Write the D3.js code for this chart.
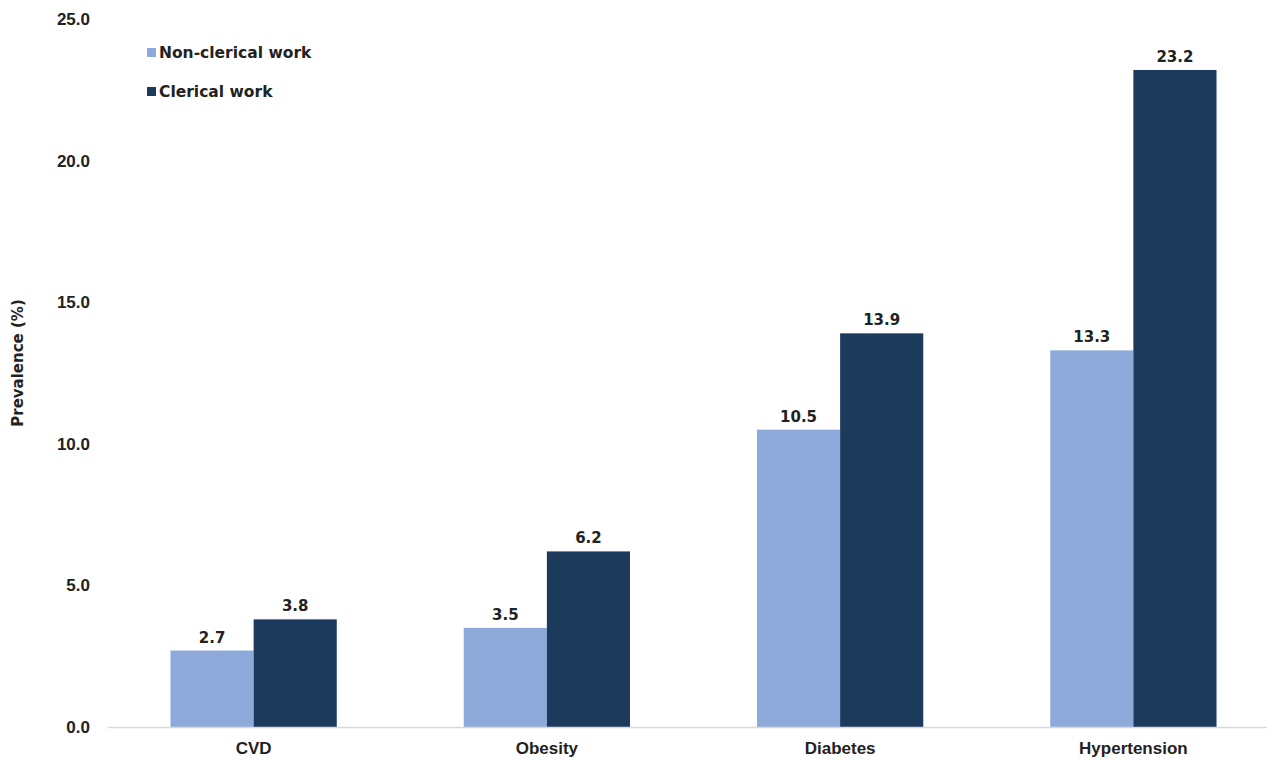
<!DOCTYPE html>
<html>
<head>
<meta charset="utf-8">
<script src="https://cdn.jsdelivr.net/npm/d3@7"></script>
<style>
  body { margin: 0; background: #fff; }
  svg { display: block; font-family: "DejaVu Sans", Verdana, sans-serif; }
</style>
</head>
<body>
<div class="chart"></div>
<script>
// data
const categories = ['CVD', 'Obesity', 'Diabetes', 'Hypertension']
const seriesNames = ['Non-clerical work', 'Clerical work']
const nonClerical = [2.7, 3.5, 10.5, 13.3]
const clerical = [3.8, 6.2, 13.9, 23.2]
const yTicks = [0, 5, 10, 15, 20, 25]

let dimensions = {
    width: 1267,
    height: 764,
    margin: {
        top: 19,
        bottom: 37,
        left: 107,
        right: -13
    }
}

const colors = ['#8eaadb', '#1b3a5c']

const svg = d3.select('.chart')
    .append('svg')
    .attr('width', dimensions.width)
    .attr('height', dimensions.height)

const container = svg.append('g')
    .attr('transform', `translate(${dimensions.margin.left},${dimensions.margin.top})`)

const containerWidth = dimensions.width - dimensions.margin.left - dimensions.margin.right
const containerHeight = dimensions.height - dimensions.margin.top - dimensions.margin.bottom

const data = categories.map((c, i) => ({
    category: c,
    values: [nonClerical[i], clerical[i]]
}))

const xScale = d3.scaleBand()
    .domain(categories)
    .range([0, containerWidth])
    .paddingInner(0.433)
    .paddingOuter(0.2165)

const xSub = d3.scaleBand()
    .domain(seriesNames)
    .range([0, xScale.bandwidth()])

const yScale = d3.scaleLinear()
    .domain([0, 25])
    .range([containerHeight, 0])

// Y axis (labels only)
const yAxis = d3.axisLeft(yScale)
    .tickValues(yTicks)
    .tickFormat(d3.format('.1f'))
    .tickSize(0)
    .tickPadding(17)

const yAxisGroup = container.append('g').call(yAxis)
yAxisGroup.select('.domain').remove()
yAxisGroup.selectAll('text')
    .attr('font-size', '17px')
    .attr('font-weight', 'bold')
    .attr('fill', '#222')

container.append('text')
    .attr('x', -containerHeight / 2 + 10)
    .attr('y', -84)
    .attr('font-size', '15px')
    .attr('font-weight', 'bold')
    .attr('fill', '#222')
    .attr('text-anchor', 'middle')
    .attr('transform', 'rotate(-90)')
    .text('Prevalence (%)')

// Bars
const groups = container.selectAll('.group')
    .data(data)
    .join('g')
    .attr('class', 'group')
    .attr('transform', d => `translate(${xScale(d.category)},0)`)

groups.selectAll('rect')
    .data(d => d.values.map((v, i) => ({ series: seriesNames[i], value: v, idx: i })))
    .join('rect')
    .attr('x', d => xSub(d.series))
    .attr('y', d => yScale(d.value))
    .attr('width', xSub.bandwidth())
    .attr('height', d => containerHeight - yScale(d.value))
    .attr('fill', d => colors[d.idx])

groups.selectAll('.label')
    .data(d => d.values.map((v, i) => ({ series: seriesNames[i], value: v })))
    .join('text')
    .attr('class', 'label')
    .attr('x', d => xSub(d.series) + xSub.bandwidth() / 2)
    .attr('y', d => yScale(d.value) - 8)
    .attr('text-anchor', 'middle')
    .attr('font-size', '15px')
    .attr('font-weight', 'bold')
    .attr('fill', '#222')
    .text(d => d3.format('.1f')(d.value))

// X axis
const xAxis = d3.axisBottom(xScale).tickSize(0).tickPadding(15)
const xAxisGroup = container.append('g')
    .attr('transform', `translate(0, ${containerHeight})`)
    .call(xAxis)
xAxisGroup.select('.domain')
    .attr('stroke', '#d9d9d9')
    .attr('stroke-width', 1.5)
xAxisGroup.selectAll('text')
    .attr('font-size', '17px')
    .attr('font-weight', 'bold')
    .attr('fill', '#222')

// Legend
const legend = svg.append('g')
    .attr('transform', 'translate(147, 52)')

const legendItems = legend.selectAll('g')
    .data(seriesNames)
    .join('g')
    .attr('transform', (d, i) => `translate(0, ${i * 39})`)

legendItems.append('rect')
    .attr('x', 0)
    .attr('y', -4)
    .attr('width', 9)
    .attr('height', 9)
    .attr('fill', (d, i) => colors[i])

legendItems.append('text')
    .attr('x', 12)
    .attr('y', 6)
    .attr('font-size', '15.5px')
    .attr('font-weight', 'bold')
    .attr('fill', '#222')
    .text(d => d)
</script>
</body>
</html>
